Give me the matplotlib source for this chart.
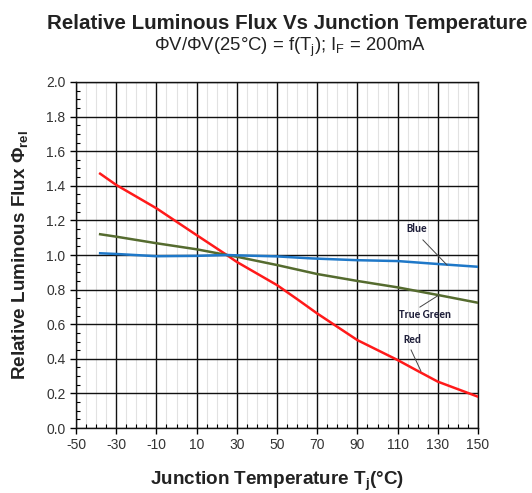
import numpy as np
import matplotlib.pyplot as plt
from matplotlib.ticker import MultipleLocator

plt.rcParams['font.family'] = ['Liberation Sans', 'DejaVu Sans']
plt.rcParams['axes.unicode_minus'] = False

# 数据
temp_red = [-38, -30, -10, 10, 25, 30, 50, 60, 70, 90, 110, 120, 130, 150]
flux_red = [1.47, 1.405, 1.27, 1.115, 1.0, 0.96, 0.826, 0.745, 0.662, 0.508, 0.393, 0.33, 0.268, 0.181]

temp_green = [-38, -30, -10, 10, 25, 30, 50, 70, 90, 110, 130, 150]
flux_green = [1.12, 1.106, 1.068, 1.033, 1.0, 0.99, 0.942, 0.89, 0.85, 0.813, 0.769, 0.724]

temp_blue = [-38, -30, -10, 10, 25, 30, 50, 66, 70, 90, 110, 130, 150]
flux_blue = [1.01, 1.006, 0.993, 0.995, 1.0, 0.998, 0.992, 0.981, 0.979, 0.97, 0.965, 0.948, 0.932]

x_ticks = list(range(-50, 151, 20))
y_ticks = [round(0.2 * i, 1) for i in range(11)]

fig = plt.figure(figsize=(5.32, 4.93), dpi=100)
ax = fig.add_axes([0.1429, 0.1318, 0.7556, 0.7019])

ax.plot(temp_red, flux_red, color='#ff1a1a', lw=1.8, zorder=4)
ax.plot(temp_green, flux_green, color='#556b2f', lw=1.8, zorder=4)
ax.plot(temp_blue, flux_blue, color='#1f78c8', lw=1.8, zorder=4)

ax.set_xlim(-50, 150)
ax.set_ylim(0, 2.0)
ax.set_xticks(x_ticks)
ax.set_yticks(y_ticks)
ax.set_yticklabels([f'{v:.1f}' for v in y_ticks])
ax.xaxis.set_minor_locator(MultipleLocator(5))
ax.yaxis.set_minor_locator(MultipleLocator(0.05))

# 网格
ax.grid(which='major', color='#111111', lw=1.0)
ax.grid(which='minor', axis='x', color='#e2e2e2', lw=0.8)
ax.set_axisbelow(True)
ax.tick_params(which='major', direction='out', length=4, width=1, labelsize=10, labelcolor='#333333')
ax.tick_params(which='minor', direction='in', length=3, width=0.8)
for s in ax.spines.values():
    s.set_color('#111111')
    s.set_linewidth(1.0)

# 标注
lab = dict(fontsize=8, fontweight='bold', color='#1f1f3a', ha='center', va='center',
           family=['Carlito', 'Liberation Sans', 'DejaVu Sans'])
ax.text(119.6, 1.156, 'Blue', **lab)
ax.plot([122.6, 134.6], [1.087, 0.942], color='#444444', lw=0.7, zorder=5)
ax.text(123.6, 0.659, 'True Green', **lab)
ax.plot([121.1, 130.6], [0.699, 0.769], color='#444444', lw=0.7, zorder=5)
ax.text(117.2, 0.509, 'Red', **lab)
ax.plot([116.7, 121.6], [0.451, 0.329], color='#444444', lw=0.7, zorder=5)

fig.text(0.54, 0.953, 'Relative Luminous Flux Vs Junction Temperature',
         ha='center', va='center', fontsize=14.8, fontweight='bold', color='#222222')
fig.text(0.546, 0.903, r'ΦV/ΦV(25°C) = f(T$_\mathregular{j}$); I$_\mathregular{F}$ = 200mA',
         ha='center', va='center', fontsize=13.3, color='#222222')

ax.set_xlabel(r'Junction Temperature T$_\mathregular{j}$(°C)', fontsize=13.6,
              fontweight='bold', color='#222222', labelpad=12)
ax.set_ylabel(r'Relative Luminous Flux Φ$_\mathregular{rel}$', fontsize=13.6,
              fontweight='bold', color='#222222', labelpad=11)

fig.savefig('out.png', dpi=100)
